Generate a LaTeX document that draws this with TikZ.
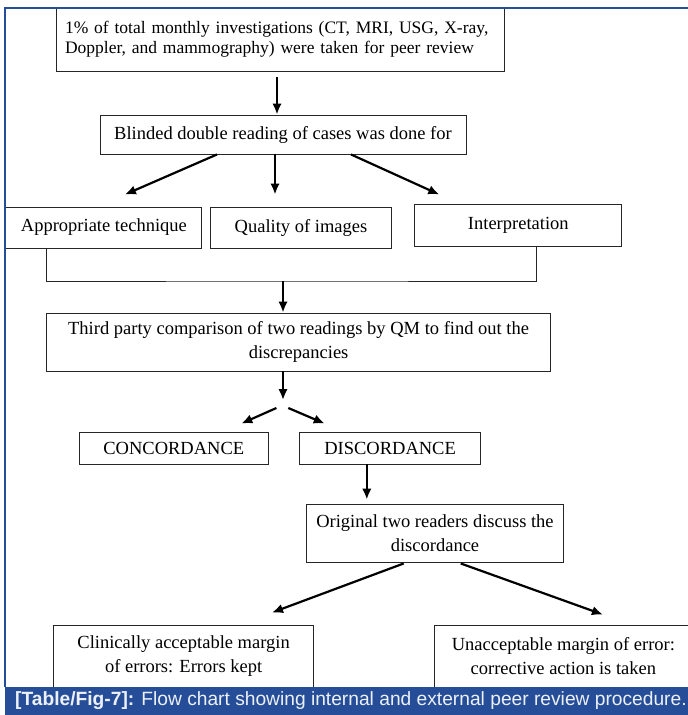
\documentclass[tikz,border=0pt]{standalone}
\usepackage{fontspec}
\setmainfont{Liberation Serif}
\newfontfamily\capfont{Liberation Sans}
\usepackage{xcolor}
\usetikzlibrary{arrows.meta}
\usetikzlibrary{calc}

\definecolor{frameblue}{RGB}{38,78,152}
\definecolor{captext}{RGB}{236,240,248}

\tikzset{
  box/.style={draw=black!85, line width=0.9pt, rectangle, inner sep=0pt, align=center,
    font=\fontsize{18.5}{24}\selectfont},
  flow/.style={-{Latex[length=11pt,width=9.5pt]}, line width=2.2pt},
}

\begin{document}
\begin{tikzpicture}[x=1pt, y=-1pt]
    \useasboundingbox (0,0) rectangle (688,715);
     %nodes
     \node[box, minimum width=448, minimum height=64, text width=430, align=left,
       font=\fontsize{17.5}{20}\selectfont] (top) at (280,39)
       {1\% of total monthly investigations (CT, MRI, USG, X-ray,\\Doppler, and mammography) were taken for peer review};
     \node[box, minimum width=366, minimum height=39] (blind) at (283,134.5) {Blinded double reading of cases was done for};
     \node[box, minimum width=196, minimum height=41] (tech) at (103.9,227.5) {Appropriate technique};
     \node[box, minimum width=181, minimum height=41] (qual) at (301,227.5) {Quality of images};
     \node[box, minimum width=207, minimum height=42] (interp) at (518.3,225) {Interpretation};
     \node[box, minimum width=504, minimum height=58] (third) at (298.6,342)
       {Third party comparison of two readings by QM to find out the\\discrepancies};
     \node[box, minimum width=189.5, minimum height=32] (conc) at (173.8,448) {CONCORDANCE};
     \node[box, minimum width=180.8, minimum height=32] (disc) at (390.1,448) {DISCORDANCE};
     \node[box, minimum width=257.5, minimum height=58] (orig) at (435,533) {Original two readers discuss the\\discordance};
     \node[box, minimum width=260, minimum height=62] (clin) at (183.6,656) {Clinically acceptable margin\\of errors: Errors kept};
     \node[box, minimum width=258, minimum height=62] (unacc) at (563.4,656) {Unacceptable margin of error:\\corrective action is taken};

     \coordinate (join) at (283,281);
     \coordinate (fork) at (283,400);

     %arrows
    \draw[flow, shorten <=6pt] ([shift={(-3,0)}]top.south) -- ([shift={(-3,0)}]top.south |- blind.north);
    \draw[flow] ([shift={(-66,0)}]blind.south) -- ([shift={(21,-12)}]tech.north);
    \draw[flow] ([shift={(-8,0)}]blind.south) -- ([shift={(-26,-12)}]qual.north);
    \draw[flow] ([shift={(68,0)}]blind.south) -- ([shift={(-79,-9)}]interp.north);
    \draw[line width=0.9pt, black!85] ([shift={(-57.4,0)}]tech.south) |- (join) -| ([shift={(17.9,0)}]interp.south);
    \draw[flow] (join) -- (join |- third.north);
    \draw[flow] (third.south -| fork) -- (fork);
    \draw[flow] ([shift={(-6.6,8)}]fork) -- ([shift={(67.5,-8)}]conc.north);
    \draw[flow] ([shift={(5.3,8)}]fork) -- ([shift={(-65.4,-8)}]disc.north);
    \draw[flow, shorten >=4pt] ([shift={(-23.3,0)}]disc.south) -- ([shift={(-23.3,0)}]disc.south |- orig.north);
    \draw[flow] ([shift={(-31.3,1)}]orig.south) -- ([shift={(88.4,-12)}]clin.north);
    \draw[flow] ([shift={(25.7,1)}]orig.south) -- ([shift={(39.5,-10)}]unacc.north);

     %caption and frame
    \fill[frameblue] (5,687) rectangle (688,715);
    \node[anchor=west, inner sep=0pt, text=captext, font=\capfont\fontsize{19.2}{21}\selectfont] (cap) at (15,701)
      {\textbf{[Table/Fig-7]:} Flow chart showing internal and external peer review procedure.};
    \draw[frameblue, line width=1.2pt] (5,687) -- (5,7.5);
    \draw[frameblue, line width=2pt] (4.4,7.5) -- (688,7.5);
\end{tikzpicture}
\end{document}
